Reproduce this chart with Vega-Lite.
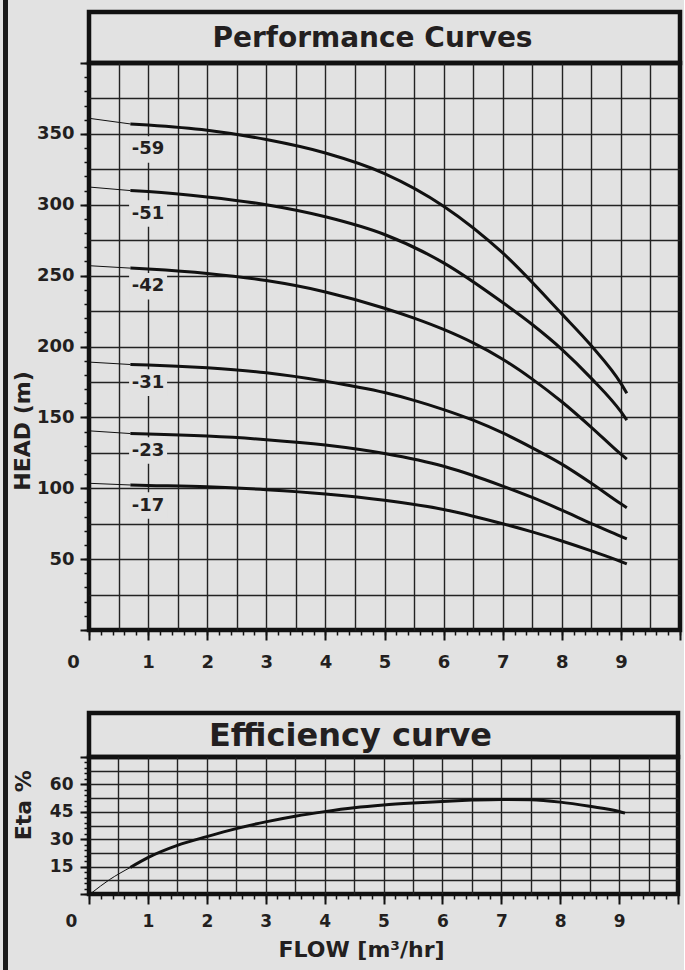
{
  "$schema": "https://vega.github.io/schema/vega-lite/v6.json",
  "background": "#e2e2e2",
  "padding": {"left": 3, "top": 0, "right": 0, "bottom": 0},
  "config": {
    "font": "DejaVu Sans",
    "axis": {
      "labelFont": "DejaVu Sans", "labelFontWeight": "bold", "labelFontSize": 18, "labelColor": "#231f20",
      "titleFont": "DejaVu Sans", "titleFontWeight": "bold", "titleColor": "#231f20",
      "tickColor": "#111", "domain": false, "labelFlush": false, "labelOverlap": false
    }
  },
  "datasets": {
    "curves": [
      {"pump": "-59", "flow": 0, "head": 361}, {"pump": "-59", "flow": 0.7, "head": 357}, {"pump": "-59", "flow": 1, "head": 356.2}, {"pump": "-59", "flow": 2, "head": 352.5}, {"pump": "-59", "flow": 3, "head": 346}, {"pump": "-59", "flow": 4, "head": 336.5}, {"pump": "-59", "flow": 5, "head": 322}, {"pump": "-59", "flow": 6, "head": 299}, {"pump": "-59", "flow": 7, "head": 266}, {"pump": "-59", "flow": 8, "head": 223}, {"pump": "-59", "flow": 8.5, "head": 200.5}, {"pump": "-59", "flow": 9, "head": 174}, {"pump": "-59", "flow": 9.1, "head": 167},
      {"pump": "-51", "flow": 0, "head": 312.5}, {"pump": "-51", "flow": 0.7, "head": 310}, {"pump": "-51", "flow": 1, "head": 309.3}, {"pump": "-51", "flow": 2, "head": 305.5}, {"pump": "-51", "flow": 3, "head": 300}, {"pump": "-51", "flow": 4, "head": 291.5}, {"pump": "-51", "flow": 5, "head": 279}, {"pump": "-51", "flow": 6, "head": 259}, {"pump": "-51", "flow": 7, "head": 231}, {"pump": "-51", "flow": 7.5, "head": 215.5}, {"pump": "-51", "flow": 8, "head": 198}, {"pump": "-51", "flow": 8.5, "head": 177.5}, {"pump": "-51", "flow": 9, "head": 154}, {"pump": "-51", "flow": 9.1, "head": 148},
      {"pump": "-42", "flow": 0, "head": 257}, {"pump": "-42", "flow": 0.7, "head": 255.3}, {"pump": "-42", "flow": 1, "head": 254.6}, {"pump": "-42", "flow": 2, "head": 251.5}, {"pump": "-42", "flow": 3, "head": 246.5}, {"pump": "-42", "flow": 4, "head": 238.5}, {"pump": "-42", "flow": 5, "head": 227}, {"pump": "-42", "flow": 5.5, "head": 220}, {"pump": "-42", "flow": 6, "head": 212}, {"pump": "-42", "flow": 6.5, "head": 202.5}, {"pump": "-42", "flow": 7, "head": 191}, {"pump": "-42", "flow": 7.5, "head": 177}, {"pump": "-42", "flow": 8, "head": 161}, {"pump": "-42", "flow": 8.5, "head": 143}, {"pump": "-42", "flow": 9, "head": 124}, {"pump": "-42", "flow": 9.1, "head": 120.5},
      {"pump": "-31", "flow": 0, "head": 189}, {"pump": "-31", "flow": 0.7, "head": 187.3}, {"pump": "-31", "flow": 1, "head": 187}, {"pump": "-31", "flow": 2, "head": 185}, {"pump": "-31", "flow": 3, "head": 181.5}, {"pump": "-31", "flow": 4, "head": 175.5}, {"pump": "-31", "flow": 5, "head": 167.5}, {"pump": "-31", "flow": 5.5, "head": 162}, {"pump": "-31", "flow": 6, "head": 155.5}, {"pump": "-31", "flow": 6.5, "head": 148}, {"pump": "-31", "flow": 7, "head": 139}, {"pump": "-31", "flow": 7.5, "head": 128.5}, {"pump": "-31", "flow": 8, "head": 117}, {"pump": "-31", "flow": 8.5, "head": 103.5}, {"pump": "-31", "flow": 9, "head": 89}, {"pump": "-31", "flow": 9.1, "head": 86.3},
      {"pump": "-23", "flow": 0, "head": 140.5}, {"pump": "-23", "flow": 0.7, "head": 138.6}, {"pump": "-23", "flow": 1, "head": 138.3}, {"pump": "-23", "flow": 2, "head": 136.8}, {"pump": "-23", "flow": 3, "head": 134.3}, {"pump": "-23", "flow": 4, "head": 130.5}, {"pump": "-23", "flow": 5, "head": 124.5}, {"pump": "-23", "flow": 6, "head": 115.5}, {"pump": "-23", "flow": 6.5, "head": 109}, {"pump": "-23", "flow": 7, "head": 101.5}, {"pump": "-23", "flow": 7.5, "head": 93.5}, {"pump": "-23", "flow": 8, "head": 84.5}, {"pump": "-23", "flow": 8.5, "head": 75}, {"pump": "-23", "flow": 9, "head": 66}, {"pump": "-23", "flow": 9.1, "head": 64.2},
      {"pump": "-17", "flow": 0, "head": 103.5}, {"pump": "-17", "flow": 0.7, "head": 102.3}, {"pump": "-17", "flow": 1, "head": 102}, {"pump": "-17", "flow": 2, "head": 101}, {"pump": "-17", "flow": 3, "head": 99}, {"pump": "-17", "flow": 4, "head": 96}, {"pump": "-17", "flow": 5, "head": 91.5}, {"pump": "-17", "flow": 6, "head": 85}, {"pump": "-17", "flow": 6.5, "head": 80.3}, {"pump": "-17", "flow": 7, "head": 75}, {"pump": "-17", "flow": 7.5, "head": 69.2}, {"pump": "-17", "flow": 8, "head": 62.8}, {"pump": "-17", "flow": 8.5, "head": 55.8}, {"pump": "-17", "flow": 9, "head": 48.3}, {"pump": "-17", "flow": 9.1, "head": 46.6}
    ],
    "labels": [
      {"pump": "-59", "flow": 1, "head": 339},
      {"pump": "-51", "flow": 1, "head": 293.8},
      {"pump": "-42", "flow": 1, "head": 242.5},
      {"pump": "-31", "flow": 1, "head": 174.5},
      {"pump": "-23", "flow": 1, "head": 126.6},
      {"pump": "-17", "flow": 1, "head": 87.8}
    ],
    "eff": [
      {"flow": 0.04, "eta": 0.5}, {"flow": 0.35, "eta": 7.9}, {"flow": 0.7, "eta": 14.5}, {"flow": 1, "eta": 19.9}, {"flow": 1.5, "eta": 26.6}, {"flow": 2, "eta": 31.4}, {"flow": 2.5, "eta": 35.8}, {"flow": 3, "eta": 39.5}, {"flow": 3.5, "eta": 42.6}, {"flow": 4, "eta": 45.1}, {"flow": 4.5, "eta": 47.2}, {"flow": 5, "eta": 48.7}, {"flow": 5.5, "eta": 49.8}, {"flow": 6, "eta": 50.7}, {"flow": 6.5, "eta": 51.4}, {"flow": 7, "eta": 51.8}, {"flow": 7.5, "eta": 51.6}, {"flow": 8, "eta": 50.3}, {"flow": 8.5, "eta": 48}, {"flow": 9, "eta": 45.2}, {"flow": 9.1, "eta": 44.3}
    ]
  },
  "spacing": 0,
  "hconcat": [
    {
      "width": 1, "height": 966,
      "data": {"values": []},
      "mark": "point",
      "view": {"stroke": "#1a1a1a", "strokeWidth": 4, "fill": null}
    },
    {
      "spacing": 36,
      "vconcat": [
        {
          "spacing": 0,
          "bounds": "flush",
          "vconcat": [
            {"width": 591, "height": 10, "data": {"values": []}, "mark": "point", "view": {"stroke": null}},
            {
              "width": 591, "height": 51,
              "data": {"values": [{"t": "Performance Curves"}]},
              "mark": {"type": "text", "font": "DejaVu Sans", "fontWeight": "bold", "fontSize": 28, "color": "#231f20", "baseline": "middle", "dx": -12, "dy": 1},
              "encoding": {"text": {"field": "t"}},
              "view": {"stroke": "#111", "strokeWidth": 4.5}
            },
            {
              "width": 591, "height": 567,
              "view": {"stroke": "#111", "strokeWidth": 4.5},
              "resolve": {"axis": {"x": "independent", "y": "independent"}},
              "layer": [
                {
                  "data": {"name": "curves"},
                  "transform": [{"filter": "datum.flow <= 0.7"}],
                  "mark": {"type": "line", "color": "#111", "strokeWidth": 1, "interpolate": "monotone"},
                  "encoding": {
                    "x": {"field": "flow", "type": "quantitative", "scale": {"domain": [0, 10], "nice": false, "zero": false},
                      "axis": {"orient": "bottom", "values": [0.5,1,1.5,2,2.5,3,3.5,4,4.5,5,5.5,6,6.5,7,7.5,8,8.5,9,9.5], "grid": true, "gridColor": "#222", "gridWidth": 1.4, "ticks": false, "labels": false, "domain": false, "title": null}},
                    "y": {"field": "head", "type": "quantitative", "scale": {"domain": [0, 400], "nice": false},
                      "axis": {"orient": "left", "values": [25,50,75,100,125,150,175,200,225,250,275,300,325,350,375], "grid": true, "gridColor": "#222", "gridWidth": 1.4, "ticks": false, "labels": false, "domain": false, "title": null}},
                    "detail": {"field": "pump", "type": "nominal"}
                  }
                },
                {
                  "data": {"name": "curves"},
                  "transform": [{"filter": "datum.flow >= 0.7"}],
                  "mark": {"type": "line", "color": "#111", "strokeWidth": 3, "interpolate": "monotone"},
                  "encoding": {
                    "x": {"field": "flow", "type": "quantitative", "scale": {"domain": [0, 10], "nice": false, "zero": false},
                      "axis": {"orient": "bottom", "values": [0,0.2,0.4,0.6,0.8,1,1.2,1.4,1.6,1.8,2,2.2,2.4,2.6,2.8,3,3.2,3.4,3.6,3.8,4,4.2,4.4,4.6,4.8,5,5.2,5.4,5.6,5.8,6,6.2,6.4,6.6,6.8,7,7.2,7.4,7.6,7.8,8,8.2,8.4,8.6,8.8,9,9.2,9.4,9.6,9.8,10], "grid": false, "tickSize": 5, "tickWidth": 1.5, "labels": false, "domain": false, "title": null}},
                    "y": {"field": "head", "type": "quantitative", "scale": {"domain": [0, 400], "nice": false},
                      "axis": {"orient": "left", "values": [0,10,20,30,40,50,60,70,80,90,100,110,120,130,140,150,160,170,180,190,200,210,220,230,240,250,260,270,280,290,300,310,320,330,340,350,360,370,380,390,400], "grid": false, "tickSize": 5, "tickWidth": 1.5, "labels": false, "domain": false, "title": null}},
                    "detail": {"field": "pump", "type": "nominal"}
                  }
                },
                {
                  "data": {"name": "labels"},
                  "mark": {"type": "point", "shape": "M-1,-0.7H1V0.7H-1Z", "size": 1444, "filled": true, "color": "#e2e2e2", "opacity": 1, "strokeWidth": 0},
                  "encoding": {
                    "x": {"field": "flow", "type": "quantitative", "scale": {"domain": [0, 10], "nice": false, "zero": false},
                      "axis": {"orient": "bottom", "values": [0,1,2,3,4,5,6,7,8,9,10], "grid": false, "tickSize": 10, "tickWidth": 2, "labelPadding": 13, "labelExpr": "datum.value == 10 ? '' : datum.label", "labelOffset": {"condition": {"test": "datum.value === 0", "value": -16}, "value": 0}, "domain": false, "title": null}},
                    "y": {"field": "head", "type": "quantitative", "scale": {"domain": [0, 400], "nice": false},
                      "axis": {"orient": "left", "values": [0,50,100,150,200,250,300,350,400], "grid": false, "tickSize": 9, "tickWidth": 2, "labelPadding": 6, "labelExpr": "datum.value == 0 || datum.value == 400 ? '' : datum.label", "domain": false,
                        "title": "HEAD (m)", "titleFontSize": 22, "titleX": -67, "titleY": 367.5, "titleBaseline": "middle", "titleAngle": -90}}
                  }
                },
                {
                  "data": {"name": "labels"},
                  "mark": {"type": "text", "font": "DejaVu Sans", "fontWeight": "bold", "fontSize": 18, "color": "#231f20", "baseline": "middle", "align": "center"},
                  "encoding": {
                    "x": {"field": "flow", "type": "quantitative", "scale": {"domain": [0, 10], "nice": false, "zero": false}, "axis": null},
                    "y": {"field": "head", "type": "quantitative", "scale": {"domain": [0, 400], "nice": false}, "axis": null},
                    "text": {"field": "pump"}
                  }
                }
              ]
            }
          ]
        },
        {
          "spacing": 0,
          "bounds": "flush",
          "vconcat": [
            {
              "width": 589, "height": 44,
              "data": {"values": [{"t": "Efficiency curve"}]},
              "mark": {"type": "text", "font": "DejaVu Sans", "fontWeight": "bold", "fontSize": 32, "color": "#231f20", "baseline": "middle", "dx": -33, "dy": 1},
              "encoding": {"text": {"field": "t"}},
              "view": {"stroke": "#111", "strokeWidth": 4.5}
            },
            {
              "width": 589, "height": 137,
              "view": {"stroke": "#111", "strokeWidth": 4.5},
              "resolve": {"axis": {"x": "independent", "y": "independent"}},
              "layer": [
                {
                  "data": {"name": "eff"},
                  "transform": [{"filter": "datum.flow <= 0.7"}],
                  "mark": {"type": "line", "color": "#111", "strokeWidth": 1, "interpolate": "monotone"},
                  "encoding": {
                    "x": {"field": "flow", "type": "quantitative", "scale": {"domain": [0, 10], "nice": false, "zero": false},
                      "axis": {"orient": "bottom", "values": [0.5,1,1.5,2,2.5,3,3.5,4,4.5,5,5.5,6,6.5,7,7.5,8,8.5,9,9.5], "grid": true, "gridColor": "#222", "gridWidth": 1.4, "ticks": false, "labels": false, "domain": false, "title": null}},
                    "y": {"field": "eta", "type": "quantitative", "scale": {"domain": [0, 75], "nice": false},
                      "axis": {"orient": "left", "values": [7.5,15,22.5,30,37.5,45,52.5,60,67.5], "grid": true, "gridColor": "#222", "gridWidth": 1.4, "ticks": false, "labels": false, "domain": false, "title": null}}
                  }
                },
                {
                  "data": {"name": "eff"},
                  "transform": [{"filter": "datum.flow >= 0.7"}],
                  "mark": {"type": "line", "color": "#111", "strokeWidth": 3, "interpolate": "monotone"},
                  "encoding": {
                    "x": {"field": "flow", "type": "quantitative", "scale": {"domain": [0, 10], "nice": false, "zero": false},
                      "axis": {"orient": "bottom", "values": [0,1,2,3,4,5,6,7,8,9,10], "grid": false, "tickSize": 10, "tickWidth": 2, "labelPadding": 9, "labelFontSize": 17, "labelExpr": "datum.value == 10 ? '' : datum.label", "labelOffset": {"condition": {"test": "datum.value === 0", "value": -18}, "value": 0}, "domain": false,
                        "title": "FLOW [m³/hr]", "titleFontSize": 22, "titleX": 272, "titleY": 55.7, "titleBaseline": "middle"}},
                    "y": {"field": "eta", "type": "quantitative", "scale": {"domain": [0, 75], "nice": false},
                      "axis": {"orient": "left", "values": [0,15,30,45,60,75], "grid": false, "tickSize": 9, "tickWidth": 2, "labelPadding": 7, "labelFontSize": 17, "labelExpr": "datum.value == 0 || datum.value == 75 ? '' : datum.label", "domain": false,
                        "title": "Eta %", "titleFontSize": 22, "titleX": -65.5, "titleY": 47.7, "titleBaseline": "middle", "titleAngle": -90}}
                  }
                },
                {
                  "data": {"values": []},
                  "mark": "point",
                  "encoding": {
                    "x": {"field": "flow", "type": "quantitative", "scale": {"domain": [0, 10], "nice": false, "zero": false},
                      "axis": {"orient": "bottom", "values": [0,0.2,0.4,0.6,0.8,1,1.2,1.4,1.6,1.8,2,2.2,2.4,2.6,2.8,3,3.2,3.4,3.6,3.8,4,4.2,4.4,4.6,4.8,5,5.2,5.4,5.6,5.8,6,6.2,6.4,6.6,6.8,7,7.2,7.4,7.6,7.8,8,8.2,8.4,8.6,8.8,9,9.2,9.4,9.6,9.8,10], "grid": false, "tickSize": 5, "tickWidth": 1.5, "labels": false, "domain": false, "title": null}},
                    "y": {"field": "eta", "type": "quantitative", "scale": {"domain": [0, 75], "nice": false},
                      "axis": {"orient": "left", "values": [0,3,6,9,12,15,18,21,24,27,30,33,36,39,42,45,48,51,54,57,60,63,66,69,72,75], "grid": false, "tickSize": 5, "tickWidth": 1.5, "labels": false, "domain": false, "title": null}}
                  }
                }
              ]
            }
          ]
        }
      ]
    }
  ]
}
